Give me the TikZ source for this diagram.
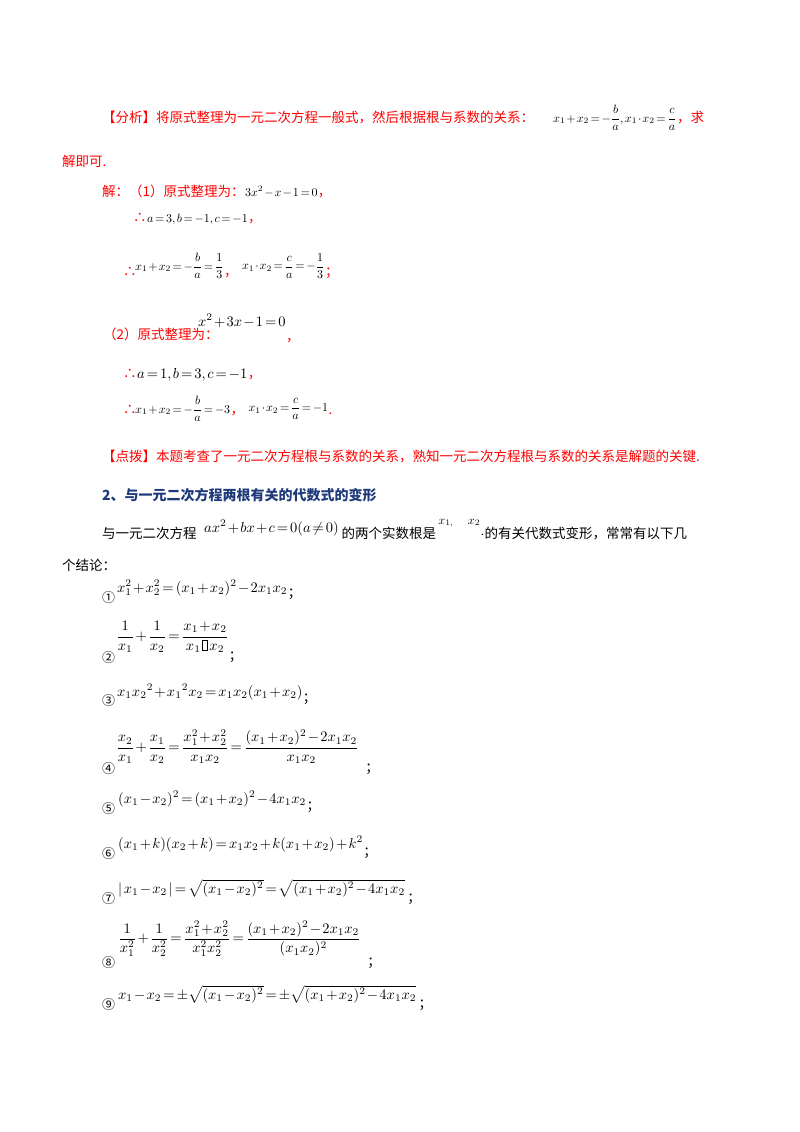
\documentclass[tikz,border=0pt]{standalone}
\usepackage{amsmath}
\usepackage{graphicx}
\usepackage{fontspec}
\newfontfamily\cjk{Noto Sans CJK SC}
\definecolor{rd}{HTML}{FF0000}
\definecolor{hb}{HTML}{1F3A7A}
\newcommand{\emptybox}{\setlength{\fboxsep}{0pt}\setlength{\fboxrule}{0.4pt}\fbox{\rule{0pt}{7pt}\hspace{3pt}}}
\newcommand{\mA}[1]{\scalebox{1.45}{$\thinmuskip=2mu\medmuskip=1.5mu\thickmuskip=2.5mu #1$}}
\newcommand{\mB}[1]{\scalebox{1.2}{$\thinmuskip=2mu\medmuskip=1.5mu\thickmuskip=2.5mu #1$}}
\begin{document}
\begin{tikzpicture}[x=1pt,y=-1pt,
 t/.style={anchor=base west,inner sep=0pt,font=\cjk\fontsize{13.5}{16}\selectfont},
 r/.style={t,text=rd},
 m/.style={anchor=base west,inner sep=0pt},
 mc/.style={anchor=west,inner sep=0pt},
 c/.style={anchor=west,inner sep=0pt,font=\cjk\fontsize{13}{16}\selectfont}]
\useasboundingbox (0,0) rectangle (800,1132);
\fill[white] (0,0) rectangle (800,1132);
% analysis
\node[r] (a1) at (102,122) {【分析】将原式整理为一元二次方程一般式，然后根据根与系数的关系：};
\node[mc] (a2) at (553,118) {\mB{x_1+x_2=-\dfrac{b}{a},x_1\cdot x_2=\dfrac{c}{a}}};
\node[r] (a3) at (a2.east |- 0,122) {，求};
\node[r] (a4) at (62,166) {解即可.};
\node[r] (s1) at (102,196) {解：（1）原式整理为：};
\node[m] (s1m) at (s1.base east) {\mB{3x^2-x-1=0}};
\node[r] (s1c) at (s1m.base east) {，};
\node[r] (s2) at (133,222) {∴};
\node[m] (s2m) at (s2.base east) {\mB{a=3,b=-1,c=-1}};
\node[r] (s2c) at (s2m.base east) {，};
\node[r] (s3) at (123,276) {∴};
\node[mc] (s3m) at (135,266) {\mB{x_1+x_2=-\dfrac{b}{a}=\dfrac{1}{3}}};
\node[r] (s3c) at (s3m.east |- 0,276) {，};
\node[mc] (s3n) at ([xshift=4pt]s3c.east |- 0,266) {\mB{x_1\cdot x_2=\dfrac{c}{a}=-\dfrac{1}{3}}};
\node[r] (s3d) at (s3n.east |- 0,276) {；};
\node[r] (p2) at (103,339) {（2）原式整理为：};
\node[m] (p2m) at (198,326) {\mA{x^2+3x-1=0}};
\node[r] (p2c) at (p2m.east |- 0,341) {，};
\node[r] (q1) at (123,378) {∴};
\node[m] (q1m) at (q1.base east) {\mA{a=1,b=3,c=-1}};
\node[r] (q1c) at (q1m.base east) {，};
\node[r] (q2) at (123,414) {∴};
\node[mc] (q2m) at (135,409) {\mB{x_1+x_2=-\dfrac{b}{a}=-3}};
\node[r] (q2c) at (q2m.east |- 0,414) {，};
\node[mc] (q2n) at ([xshift=4pt]q2c.east |- 0,409) {\mB{x_1\cdot x_2=\dfrac{c}{a}=-1}};
\node[r] (q2d) at (q2n.east |- 0,414) {.};
\node[r] (d1) at (102,461) {【点拨】本题考查了一元二次方程根与系数的关系，熟知一元二次方程根与系数的关系是解题的关键.};
% section 2
\node[t,text=hb,font=\cjk\bfseries\fontsize{14}{16}\selectfont] (h) at (102,500) {2、与一元二次方程两根有关的代数式的变形};
\node[t] (b1) at (102,538) {与一元二次方程};
\node[m] (b1m) at (204,532) {\mA{ax^2+bx+c=0(a\neq 0)}};
\node[t] (b2) at (b1m.base east |- 0,538) {\,的两个实数根是};
\node[m] (b3) at ([xshift=2pt]b2.base east |- 0,524) {\mB{x_{1,}}};
\node[m] (b4) at ([xshift=14pt]b3.base east |- 0,524) {\mB{x_2}};
\node[t] (b5) at (b4.base east |- 0,538) {$\cdot$的有关代数式变形，常常有以下几};
\node[t] (b6) at (62,570) {个结论：};
% formulas
\node[c] (n1) at (102,598) {①};
\node[m] (f1) at (117,592) {\mA{x_1^2+x_2^2=(x_1+x_2)^2-2x_1x_2}};
\node[t] (e1) at (f1.base east |- 0,597) {；};
\node[c] (n2) at (102,658) {②};
\node[mc] (f2) at (116,637) {\mA{\dfrac{1}{x_1}+\dfrac{1}{x_2}=\dfrac{x_1+x_2}{x_1\,\emptybox\,x_2}}};
\node[t] (e2) at (f2.east |- 0,660) {；};
\node[c] (n3) at (102,701) {③};
\node[m] (f3) at (117,696) {\mA{x_1x_2{}^2+x_1{}^2x_2=x_1x_2(x_1+x_2)}};
\node[t] (e3) at (f3.base east |- 0,702) {；};
\node[c] (n4) at (102,769) {④};
\node[mc] (f4) at (116,747) {\mA{\dfrac{x_2}{x_1}+\dfrac{x_1}{x_2}=\dfrac{x_1^2+x_2^2}{x_1x_2}=\dfrac{(x_1+x_2)^2-2x_1x_2}{x_1x_2}}};
\node[t] (e4) at ([xshift=6pt]f4.east |- 0,772) {；};
\node[c] (n5) at (102,809) {⑤};
\node[m] (f5) at (118,803) {\mA{(x_1-x_2)^2=(x_1+x_2)^2-4x_1x_2}};
\node[t] (e5) at (f5.base east |- 0,810) {；};
\node[c] (n6) at (102,854) {⑥};
\node[m] (f6) at (118,848) {\mA{(x_1+k)(x_2+k)=x_1x_2+k(x_1+x_2)+k^2}};
\node[t] (e6) at (f6.base east |- 0,856) {；};
\node[c] (n7) at (102,899) {⑦};
\node[m] (f7) at (118,893) {\mA{|\,x_1-x_2\,|=\sqrt{(x_1-x_2)^2}=\sqrt{(x_1+x_2)^2-4x_1x_2}}};
\node[t] (e7) at ([xshift=2pt]f7.base east |- 0,902) {；};
\node[c] (n8) at (102,963) {⑧};
\node[mc] (f8) at (118,939) {\mA{\dfrac{1}{x_1^2}+\dfrac{1}{x_2^2}=\dfrac{x_1^2+x_2^2}{x_1^2x_2^2}=\dfrac{(x_1+x_2)^2-2x_1x_2}{(x_1x_2)^2}}};
\node[t] (e8) at ([xshift=6pt]f8.east |- 0,966) {；};
\node[c] (n9) at (102,1005) {⑨};
\node[m] (f9) at (118,999) {\mA{x_1-x_2=\pm\sqrt{(x_1-x_2)^2}=\pm\sqrt{(x_1+x_2)^2-4x_1x_2}}};
\node[t] (e9) at ([xshift=2pt]f9.base east |- 0,1008) {；};
\end{tikzpicture}
\end{document}
